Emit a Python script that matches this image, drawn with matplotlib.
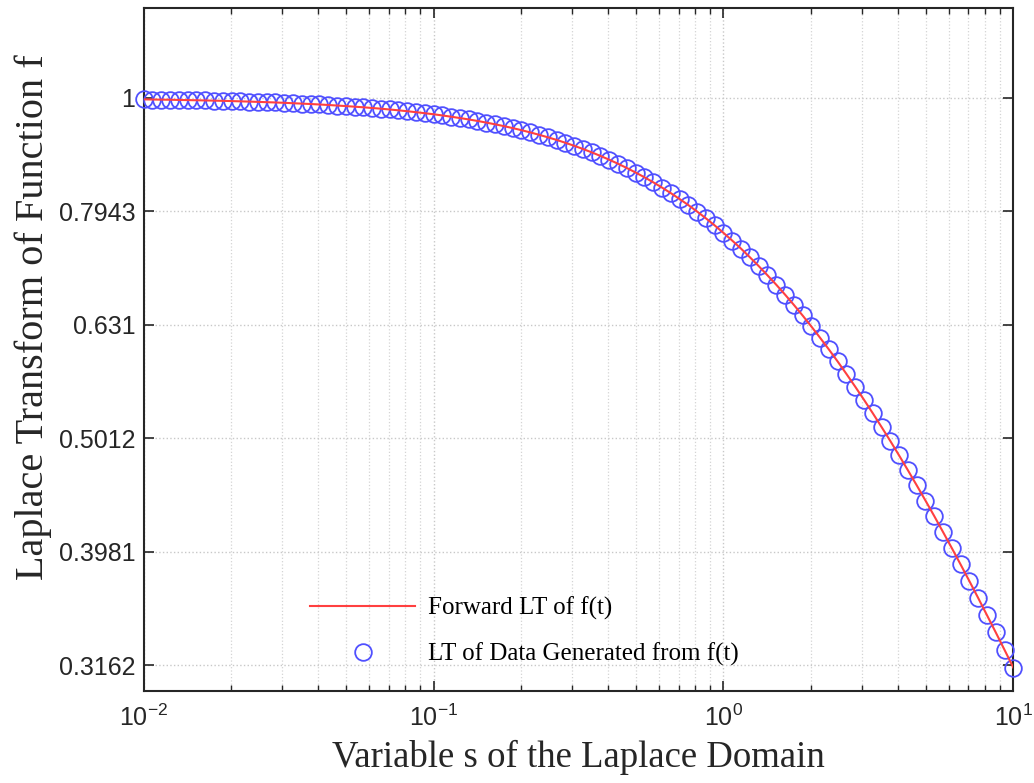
import matplotlib
matplotlib.use("Agg")
import matplotlib.pyplot as plt
from matplotlib.ticker import FixedLocator, FixedFormatter, NullLocator, LogLocator

# s values of the Laplace domain (log spaced)
s_vals = [
    0.01, 0.01072, 0.0115, 0.01233, 0.01322, 0.01417, 0.0152, 0.0163, 0.01748, 0.01874,
    0.02009, 0.02154, 0.0231, 0.02477, 0.02656, 0.02848, 0.03054, 0.03275, 0.03511, 0.03765,
    0.04037, 0.04329, 0.04642, 0.04977, 0.05337, 0.05722, 0.06136, 0.06579, 0.07055, 0.07565,
    0.08111, 0.08697, 0.09326, 0.1, 0.1072, 0.115, 0.1233, 0.1322, 0.1417, 0.152,
    0.163, 0.1748, 0.1874, 0.2009, 0.2154, 0.231, 0.2477, 0.2656, 0.2848, 0.3054,
    0.3275, 0.3511, 0.3765, 0.4037, 0.4329, 0.4642, 0.4977, 0.5337, 0.5722, 0.6136,
    0.6579, 0.7055, 0.7565, 0.8111, 0.8697, 0.9326, 1, 1.072, 1.15, 1.233,
    1.322, 1.417, 1.52, 1.63, 1.748, 1.874, 2.009, 2.154, 2.31, 2.477,
    2.656, 2.848, 3.054, 3.275, 3.511, 3.765, 4.037, 4.329, 4.642, 4.977,
    5.337, 5.722, 6.136, 6.579, 7.055, 7.565, 8.111, 8.697, 9.326, 10,
]

# forward LT of f(t) (red line) and LT of generated data (circles)
lt_forward = [
    0.9966, 0.9963, 0.9960, 0.9958, 0.9954, 0.9951, 0.9948, 0.9944, 0.9940, 0.9936,
    0.9931, 0.9926, 0.9921, 0.9915, 0.9909, 0.9903, 0.9896, 0.9888, 0.9880, 0.9872,
    0.9863, 0.9853, 0.9842, 0.9831, 0.9819, 0.9807, 0.9793, 0.9779, 0.9763, 0.9747,
    0.9729, 0.9710, 0.9690, 0.9669, 0.9646, 0.9621, 0.9595, 0.9568, 0.9539, 0.9507,
    0.9474, 0.9439, 0.9402, 0.9362, 0.9320, 0.9275, 0.9228, 0.9179, 0.9126, 0.9070,
    0.9012, 0.8950, 0.8885, 0.8817, 0.8745, 0.8670, 0.8591, 0.8509, 0.8423, 0.8333,
    0.8240, 0.8142, 0.8042, 0.7937, 0.7829, 0.7717, 0.7601, 0.7483, 0.7361, 0.7235,
    0.7107, 0.6976, 0.6843, 0.6707, 0.6569, 0.6429, 0.6287, 0.6144, 0.6000, 0.5855,
    0.5709, 0.5563, 0.5417, 0.5271, 0.5126, 0.4982, 0.4838, 0.4695, 0.4554, 0.4415,
    0.4278, 0.4142, 0.4009, 0.3878, 0.3749, 0.3623, 0.3499, 0.3379, 0.3261, 0.3146,
]
lt_data = list(lt_forward)

y_ticks = [0.3162, 0.3981, 0.5012, 0.631, 0.7943, 1]
y_tick_labels = ["0.3162", "0.3981", "0.5012", "0.631", "0.7943", "1"]

plt.rcParams["font.family"] = ["Liberation Sans", "DejaVu Sans"]
plt.rcParams["mathtext.default"] = "regular"

fig = plt.figure(figsize=(10.34, 7.83), dpi=100)
ax = fig.add_axes([0.139, 0.1175, 0.841, 0.8725])

ax.plot(s_vals, lt_data, "o", mfc="none", mec="#5050ff", ms=12, mew=1.3,
        clip_on=False, label="LT of Data Generated from f(t)", zorder=3)
ax.plot(s_vals, lt_forward, "-", color="#ff4040", lw=1.5,
        label="Forward LT of f(t)", zorder=4)

ax.set_xscale("log")
ax.set_yscale("log")
ax.set_xlim(1e-2, 1e1)
ax.set_ylim(0.3, 1.2)

ax.yaxis.set_major_locator(FixedLocator(y_ticks))
ax.yaxis.set_major_formatter(FixedFormatter(y_tick_labels))
ax.yaxis.set_minor_locator(NullLocator())
ax.xaxis.set_major_locator(LogLocator(base=10, numticks=10))
ax.xaxis.set_minor_locator(LogLocator(base=10, subs=range(2, 10), numticks=20))

ax.tick_params(which="both", direction="in", top=True, right=True, color="#262626")
ax.tick_params(which="major", length=7, width=1.2)
ax.tick_params(which="minor", length=4, width=1.0)
ax.tick_params(axis="x", labelsize=18, pad=10, labelcolor="#262626")
ax.tick_params(axis="y", labelsize=18, pad=6, labelcolor="#262626")

ax.grid(True, which="major", color="#c8c8c8", ls=":", lw=1.0)
ax.grid(True, which="minor", axis="x", color="#d4d4d4", ls=":", lw=0.9)
for sp in ax.spines.values():
    sp.set_color("#262626")
    sp.set_linewidth(1.5)

serif = ["Liberation Serif", "DejaVu Serif"]
ax.set_xlabel("Variable s of the Laplace Domain", family=serif, fontsize=26.5,
              color="#262626", labelpad=6)
ax.set_ylabel("Laplace Transform of Function f", family=serif, fontsize=29,
              color="#262626")
ax.yaxis.set_label_coords(-0.105, (691 - 317) / 683)

handles, labels = ax.get_legend_handles_labels()
leg = ax.legend(handles[::-1], labels[::-1], loc="upper left",
                bbox_to_anchor=(310 / 1034, 1 - 597 / 783),
                bbox_transform=fig.transFigure, frameon=False,
                prop={"family": serif, "size": 18}, handlelength=4.2,
                handletextpad=0.5, borderpad=0, borderaxespad=0,
                labelspacing=0.9)

fig.savefig("out.png", dpi=100)
